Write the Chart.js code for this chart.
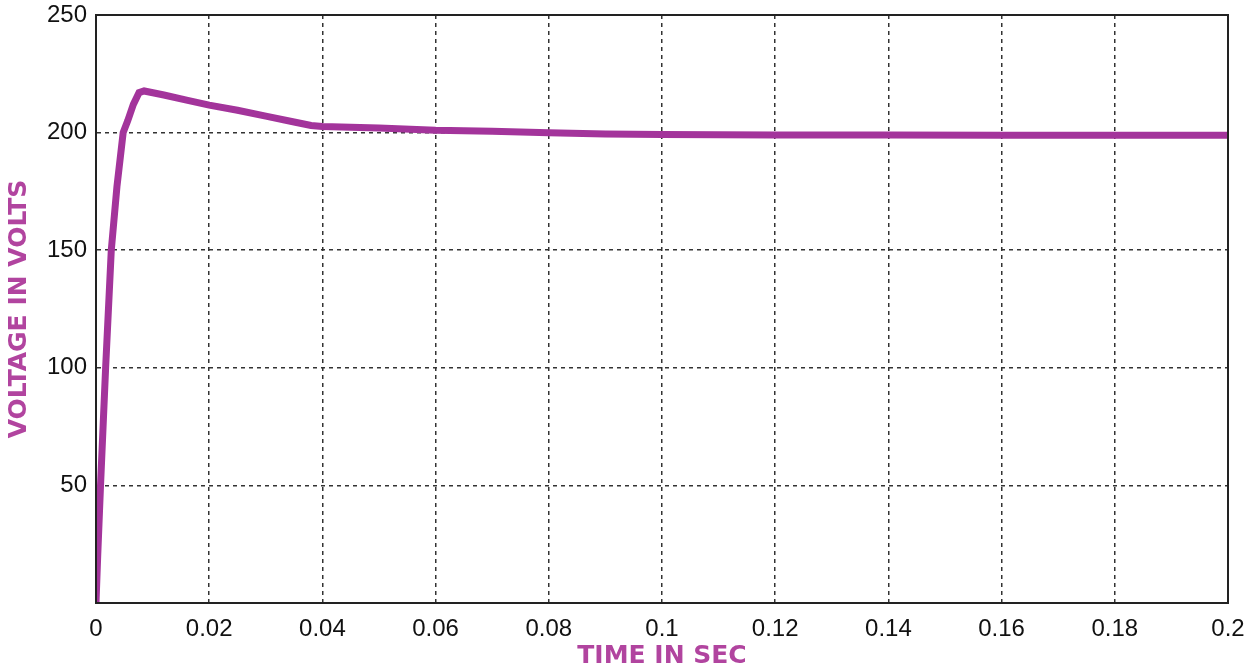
<!DOCTYPE html>
<html>
<head>
<meta charset="utf-8">
<script src="https://cdn.jsdelivr.net/npm/chart.js@4"></script>
<style>
  html, body { margin: 0; padding: 0; background: #fff; }
  #wrap { width: 1250px; height: 671px; }
</style>
</head>
<body>
<div id="wrap"><canvas id="grafico"></canvas></div>
<script>
// readings
var timeSec = [0, 0.0003, 0.0008, 0.0017, 0.0027, 0.0037, 0.0048, 0.0056, 0.0066, 0.0076, 0.0085, 0.012, 0.016, 0.020, 0.025, 0.030, 0.035, 0.038, 0.040, 0.050, 0.060, 0.070, 0.080, 0.090, 0.100, 0.120, 0.140, 0.160, 0.180, 0.200]
var voltage = [0, 20, 50, 100, 150, 177, 200, 205, 212, 217, 217.7, 216, 213.8, 211.7, 209.5, 207, 204.5, 203, 202.6, 202, 201, 200.6, 199.9, 199.4, 199.2, 199, 199, 198.9, 198.9, 198.9]
var xTicks = [0, 0.02, 0.04, 0.06, 0.08, 0.1, 0.12, 0.14, 0.16, 0.18, 0.2]
var yTicks = [0, 50, 100, 150, 200, 250]

var lineColor = '#a3349b'
var titleColor = '#b1449f'

var puntos = timeSec.map(function (t, i) { return { x: t, y: voltage[i] } })

var ctx = document.getElementById('grafico')
var grafico = new Chart(ctx,
    {
        type: 'scatter',
        data:
            {
                datasets:
                    [{
                        data: puntos,
                        showLine: true,
                        borderColor: lineColor,
                        backgroundColor: lineColor,
                        borderWidth: 7,
                        pointRadius: 0,
                        tension: 0
                    }]
            },
        options:
            {
                responsive: true,
                maintainAspectRatio: false,
                animation: false,
                layout: { padding: 0 },
                plugins: { legend: { display: false }, tooltip: { enabled: false } },
                scales:
                    {
                        x:
                            {
                                type: 'linear',
                                min: 0,
                                max: 0.2,
                                afterBuildTicks: function (axis) { axis.ticks = xTicks.map(function (v) { return { value: v } }) },
                                afterFit: function (axis) {
                                    axis.height = 68
                                    axis.paddingLeft = 0
                                    axis.paddingRight = 22
                                },
                                border: { display: true, color: '#222', width: 2, dash: [4, 4] },
                                grid: { color: '#333', lineWidth: 1.5, drawTicks: false },
                                ticks:
                                    {
                                        padding: 12,
                                        color: '#111',
                                        maxRotation: 0,
                                        font: { family: 'Liberation Sans, Arial, sans-serif', size: 24 },
                                        callback: function (v) { return String(+v.toFixed(2)) }
                                    },
                                title:
                                    {
                                        display: true,
                                        text: 'TIME IN SEC',
                                        color: titleColor,
                                        padding: { top: 0, bottom: 0 },
                                        font: { family: 'DejaVu Sans, sans-serif', size: 25, weight: 'bold' }
                                    }
                            },
                        y:
                            {
                                min: 0,
                                max: 250,
                                afterBuildTicks: function (axis) { axis.ticks = yTicks.map(function (v) { return { value: v } }) },
                                afterFit: function (axis) {
                                    axis.width = 96
                                    axis.paddingTop = 15
                                    axis.paddingBottom = 0
                                },
                                border: { display: true, color: '#222', width: 2, dash: [4, 4] },
                                grid: { color: '#333', lineWidth: 1.5, drawTicks: false },
                                ticks:
                                    {
                                        padding: 9,
                                        color: '#111',
                                        font: { family: 'Liberation Sans, Arial, sans-serif', size: 24 },
                                        callback: function (v) { return v === 0 ? '' : String(v) }
                                    },
                                title:
                                    {
                                        display: true,
                                        text: 'VOLTAGE IN VOLTS',
                                        color: titleColor,
                                        padding: { top: 4, bottom: 0 },
                                        font: { family: 'DejaVu Sans, sans-serif', size: 25, weight: 'bold' }
                                    }
                            }
                    }
            },
        plugins:
            [{
                // solid frame round the plot
                id: 'marco',
                afterDraw: function (chart) {
                    var a = chart.chartArea
                    var c = chart.ctx
                    c.save()
                    c.setLineDash([])
                    c.strokeStyle = '#222'
                    c.lineWidth = 2
                    c.strokeRect(a.left, a.top, a.right - a.left, a.bottom - a.top)
                    c.restore()
                }
            }]
    })
</script>
</body>
</html>
